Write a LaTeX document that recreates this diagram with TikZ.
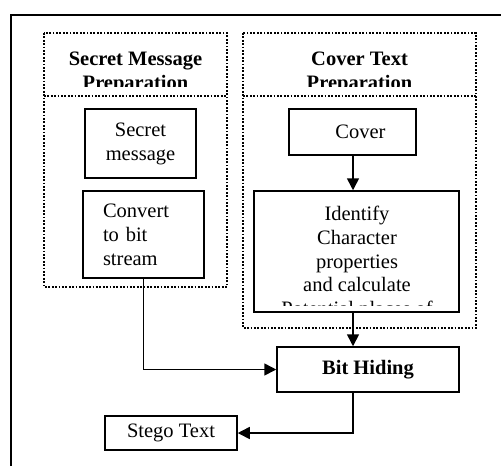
\documentclass[tikz,border=0pt]{standalone}
\usepackage{fontspec}
\setmainfont{Liberation Serif}
\usetikzlibrary{arrows.meta}
\begin{document}
\begin{tikzpicture}[x=0.5pt,y=-0.5pt,
  box/.style={draw, line width=0.75pt, inner sep=0pt, font=\fontsize{10.25}{12}\selectfont, align=center},
  dotline/.style={line width=1.2pt, dash pattern=on 0.9pt off 0.8pt},
  arr/.style={line width=0.8pt, -{Triangle[length=6pt,width=6pt]}},
  txt/.style={font=\fontsize{10.25}{11.8}\selectfont, align=center, inner sep=0pt},
  hdr/.style={font=\fontsize{10.25}{12}\selectfont\bfseries, align=center, inner sep=0pt}]
\useasboundingbox (0,0) rectangle (501,466);
\fill[white] (0,0) rectangle (501,466);
% outer frame (cropped at right and bottom)
\draw[line width=0.7pt] (11,466) -- (11,15) -- (501,15);
% dotted groups
\draw[dotline] (44,33) rectangle (227,287);
\draw[dotline] (44,96) -- (227,96);
\draw[dotline] (243,33) rectangle (476,328);
\draw[dotline] (243,96) -- (476,96);
% headers (clipped)
\begin{scope}
  \clip (44,33) rectangle (227,86);
  \node[hdr, anchor=north] (hsm) at (135.5,52) {Secret Message\\Preparation};
\end{scope}
\begin{scope}
  \clip (243,33) rectangle (476,86);
  \node[hdr, anchor=north] (hct) at (359.5,52) {Cover Text\\Preparation};
\end{scope}
% boxes
\node[box, minimum width=55.5pt, minimum height=34.5pt] (sm) at (140.5,143.5) {Secret\\message};
\node[box, minimum width=60.5pt, minimum height=43.5pt, text width=40.5pt, inner xsep=10pt, align=left] (conv) at (143.5,234.5) {Convert\\to bit\\stream};
\node[box, minimum width=63.5pt, minimum height=23pt] (cover) at (352.5,132) {\hspace{8pt}Cover};
\node[draw, line width=0.75pt, minimum width=102.5pt, minimum height=60.5pt, inner sep=0pt] (ident) at (356.5,251.5) {};
\begin{scope}
  \clip (254,191) rectangle (459,305);
  \node[txt, anchor=north] (identtxt) at (357,206) {Identify\\Character\\properties\\and calculate\\Potential places of};
\end{scope}
\node[box, minimum width=91pt, minimum height=22.5pt, font=\fontsize{10.25}{12}\selectfont\bfseries] (bit) at (368,369.5) {Bit Hiding};
\node[box, minimum width=66pt, minimum height=17pt] (stego) at (171,433) {Stego Text};
% connectors
\coordinate (vx) at (353,0);
\draw[arr] (cover.south -| vx) -- (ident.north -| vx);
\draw[arr] (ident.south -| vx) -- (bit.north -| vx);
\draw[arr] (conv.south) |- (bit.west);
\draw[arr] (bit.south -| vx) |- (stego.east);
\end{tikzpicture}
\end{document}
